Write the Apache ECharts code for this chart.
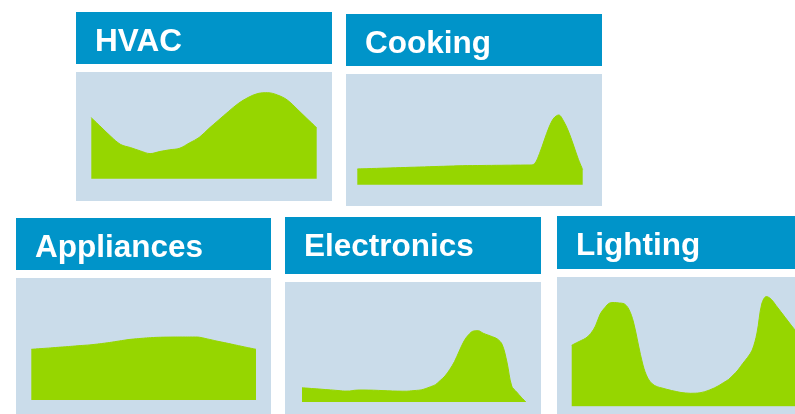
<!DOCTYPE html>
<html>
<head>
<meta charset="utf-8">
<script src="https://cdn.jsdelivr.net/npm/echarts@6/dist/echarts.min.js"></script>
<style>
html,body{margin:0;padding:0;background:#ffffff;}
#chart{width:795px;height:414px;}
</style>
</head>
<body>
<div id="chart"></div>
<script>
// Panel titles
const titles = ['HVAC', 'Cooking', 'Appliances', 'Electronics', 'Lighting'];

// Hour categories (x axis, hidden)
const hours24 = Array.from({length: 24}, (_, i) => i + ':00');
const hours48 = Array.from({length: 48}, (_, i) => Math.floor(i / 2) + ':' + (i % 2 ? '30' : '00'));

// Load profile values (arbitrary units)
const hvac = [61, 51.6, 42.2, 34.2, 31.1, 27.8, 25.1, 27.2, 28.9, 30.4, 35.7, 41.2,
              50.2, 58.7, 67.2, 75.2, 81.2, 85.2, 86, 83.7, 78.7, 69.7, 60.2, 51];
const cooking = [15.7, 15.9, 16.0, 16.2, 16.3, 16.5, 16.6, 16.8, 16.9, 17.1, 17.2, 17.4,
                 17.5, 17.7, 17.8, 18.0, 18.1, 18.3, 18.4, 18.6, 18.7, 18.9, 19.0, 19.1,
                 19.1, 19.2, 19.2, 19.3, 19.3, 19.4, 19.4, 19.5, 19.5, 19.6, 19.6, 19.7,
                 19.7, 21.2, 31.2, 44.7, 57.7, 66.7, 69.7, 63.7, 53.7, 40.7, 26.7, 15];
const appliances = [50.7, 51.4, 52.1, 52.9, 53.6, 54.4, 55.1, 56.2, 57.5, 59.0, 60.5, 61.4,
                    62.2, 62.7, 62.9, 63.0, 63.0, 63.0, 61.1, 58.9, 56.9, 54.8, 52.7, 50.7];
const electronics = [14.3, 13.9, 13.5, 13.2, 12.8, 12.4, 12.1, 11.7, 11.3, 10.9, 11.0, 11.7,
                     12.0, 12.0, 11.9, 11.8, 11.6, 11.4, 11.2, 11.0, 10.9, 10.8, 10.8, 11.2,
                     11.6, 12.1, 13.5, 15.3, 17.3, 21.5, 26.0, 32.5, 40.5, 51, 61, 67.5,
                     71, 71.3, 68.8, 67, 65.2, 63, 57.5, 40, 16, 10.2, 4.8, 0];
const lighting = [61, 63.5, 65.8, 68.3, 72.8, 80.3, 92.3, 98.8, 103.3, 103.8, 103.3, 102.6,
                  97.3, 84.3, 62.3, 41.3, 28.3, 22.3, 19.6, 18.3, 17, 15.8, 14.8, 13.8,
                  13.3, 13, 13.1, 13.5, 14.6, 16.3, 18.3, 20.8, 23.8, 26.8, 31.3, 36.3,
                  42.8, 48.8, 56.3, 73.3, 102.3, 109.8, 107, 100.9, 94.7, 88.5, 82.3, 76.3];

const seriesData = [hvac, cooking, appliances, electronics, lighting];
const seriesCats = [hours24, hours48, hours24, hours48, hours48];

// Layout (pixels)
const panels = [
  {hx: 76,  hy: 12,  hw: 256, hh: 52, by: 72,  bh: 129, gl: 91.3,  gw: 225.4, gb: 178.7, smooth: 0.35},
  {hx: 346, hy: 14,  hw: 256, hh: 52, by: 74,  bh: 132, gl: 357.3, gw: 225.4, gb: 184.7, smooth: 0.35},
  {hx: 16,  hy: 218, hw: 255, hh: 52, by: 278, bh: 140, gl: 31.3,  gw: 224.7, gb: 400,   smooth: 0.2},
  {hx: 285, hy: 217, hw: 256, hh: 57, by: 282, bh: 140, gl: 302,   gw: 224,   gb: 402,   smooth: 0.35},
  {hx: 557, hy: 216, hw: 256, hh: 53, by: 277, bh: 140, gl: 571.7, gw: 225,   gb: 406.3, smooth: 0.35}
];

const HEADER = '#0094c9';
const BG = '#cadcea';
const GREEN = '#96d600';

const grids = [], xAxes = [], yAxes = [], series = [], graphics = [];
panels.forEach((p, i) => {
  graphics.push({type: 'rect', z: -10, shape: {x: p.hx, y: p.hy, width: p.hw, height: p.hh}, style: {fill: HEADER}});
  graphics.push({type: 'rect', z: -10, shape: {x: p.hx, y: p.by, width: p.hw, height: p.bh}, style: {fill: BG}});
  graphics.push({type: 'text', z: 100, x: p.hx + 19, y: p.hy + 30,
    style: {text: titles[i], fill: '#ffffff', font: 'bold 31.5px "Liberation Sans", Arial, sans-serif', verticalAlign: 'middle', align: 'left'}});
  const h = p.gb - p.by;
  grids.push({left: p.gl, top: p.by, width: p.gw, height: h, containLabel: false});
  xAxes.push({type: 'category', gridIndex: i, data: seriesCats[i], boundaryGap: false, show: false});
  yAxes.push({type: 'value', gridIndex: i, min: 0, max: h, show: false});
  series.push({type: 'line', xAxisIndex: i, yAxisIndex: i, data: seriesData[i], smooth: p.smooth,
    showSymbol: false, symbol: 'none', silent: true,
    lineStyle: {width: 1, color: GREEN}, areaStyle: {color: GREEN, opacity: 1}});
});

const chart = echarts.init(document.getElementById('chart'), null, {renderer: 'canvas'});
chart.setOption({
  animation: false,
  backgroundColor: '#ffffff',
  graphic: {elements: graphics},
  grid: grids, xAxis: xAxes, yAxis: yAxes, series: series
});
</script>
</body>
</html>
